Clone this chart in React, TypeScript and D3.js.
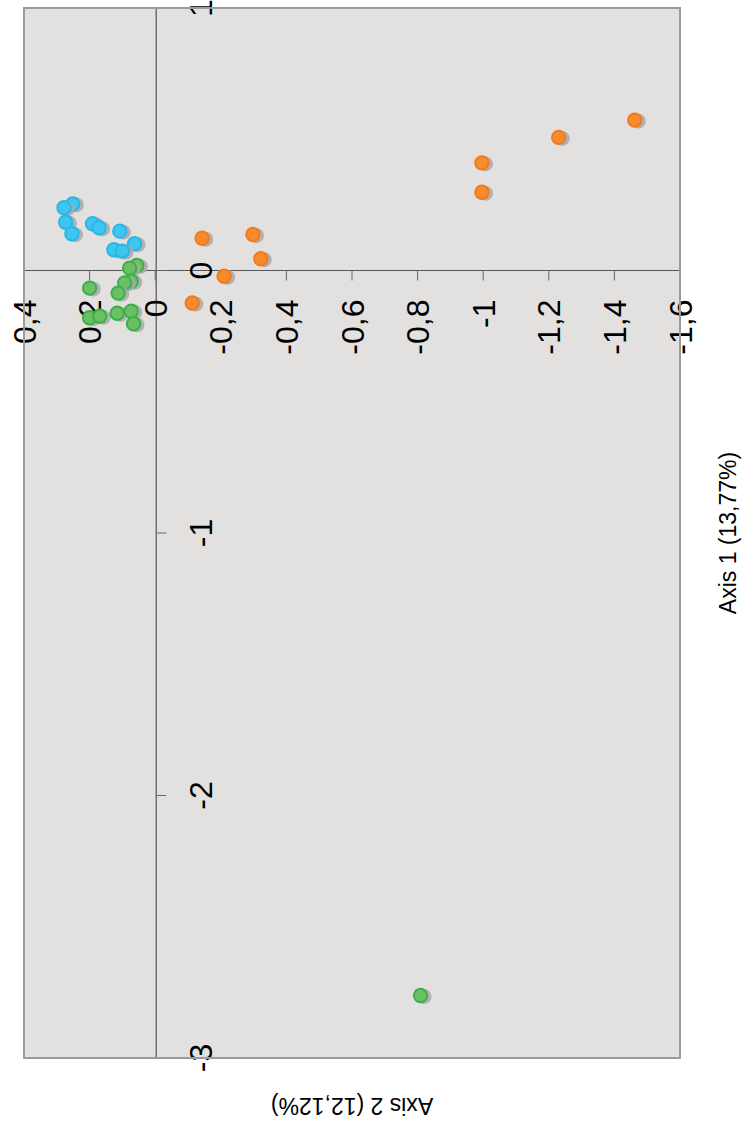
import React from "react";
import * as d3 from "d3";

// Axis 1 (13,77%) values and Axis 2 (12,12%) values per group
const blueAxis1 = [0.254, 0.239, 0.184, 0.14, 0.178, 0.163, 0.15, 0.102, 0.079, 0.074];
const blueAxis2 = [0.251, 0.278, 0.273, 0.254, 0.191, 0.171, 0.108, 0.063, 0.126, 0.1];

const greenAxis1 = [0.019, 0.009, -0.041, -0.047, -0.086, -0.067, -0.18, -0.174, -0.163, -0.155, -0.203, -2.762];
const greenAxis2 = [0.056, 0.078, 0.073, 0.093, 0.113, 0.2, 0.2, 0.169, 0.116, 0.073, 0.066, -0.809];

const orangeAxis1 = [0.123, 0.137, 0.045, -0.022, -0.124, 0.41, 0.298, 0.507, 0.573];
const orangeAxis2 = [-0.143, -0.298, -0.322, -0.21, -0.113, -0.996, -0.996, -1.23, -1.462];

const axis1Ticks = [-3, -2, -1, 0, 1];
const axis2Ticks = [0.4, 0.2, 0, -0.2, -0.4, -0.6, -0.8, -1, -1.2, -1.4, -1.6];

const axis1Title = "Axis 1 (13,77%)";
const axis2Title = "Axis 2 (12,12%)";

const groups = [
  { name: "blue", a1: blueAxis1, a2: blueAxis2, fill: "#3ec6f0", stroke: "#2ab6e6" },
  { name: "orange", a1: orangeAxis1, a2: orangeAxis2, fill: "#f78c2e", stroke: "#f27a1c" },
  { name: "green", a1: greenAxis1, a2: greenAxis2, fill: "#6cbf62", stroke: "#3bb049" },
];

const locale = d3.formatLocale({
  decimal: ",",
  thousands: ".",
  grouping: [3],
  currency: ["", ""],
  minus: "-",
});
const fmt = locale.format("~g");

export default function App() {
  // inner (unrotated) plot size
  const W = 1050;
  const H = 656;
  const x = d3.scaleLinear().domain([-3, 1]).range([0, W]);
  const y = d3.scaleLinear().domain([0.4, -1.6]).range([0, H]);
  const x0 = x(0);
  const y0 = y(0) + 1;
  const font = "'Liberation Sans', Arial, Helvetica, sans-serif";

  return (
    <svg
      width={753}
      height={1128}
      style={{ position: "absolute", left: 0, top: 0, display: "block", background: "#fff" }}
    >
      <defs>
        <filter id="sh" x="-50%" y="-50%" width="200%" height="200%">
          <feGaussianBlur stdDeviation="0.7" />
        </filter>
      </defs>
      <g transform="translate(24,1058) rotate(-90)">
        <rect x={0} y={0} width={W} height={H} fill="#e2e1e0" stroke="none" />
        {/* zero axes */}
        <line x1={0} x2={W} y1={y0} y2={y0} stroke="#555" strokeWidth={1.2} />
        <line x1={x0} x2={x0} y1={0} y2={H} stroke="#555" strokeWidth={1.2} />
        {/* axis1 ticks (along horizontal zero line) */}
        {axis1Ticks.map((t) => (
          <g key={"a1" + t}>
            <line x1={x(t)} x2={x(t)} y1={y0} y2={y0 + 10} stroke="#666" strokeWidth={1} />
            <text
              x={x(t)}
              y={y0 + 56}
              textAnchor="middle"
              fontFamily={font}
              fontSize={32}
              fill="#000"
            >
              {fmt(t)}
            </text>
          </g>
        ))}
        {/* axis2 ticks (along vertical zero line) */}
        {axis2Ticks.map((t) => (
          <g key={"a2" + t}>
            <line x1={x0} x2={x0 - 10} y1={y(t)} y2={y(t)} stroke="#666" strokeWidth={1} />
            <text
              x={x0 - 29}
              y={y(t)}
              dy="0.36em"
              textAnchor="end"
              fontFamily={font}
              fontSize={32}
              fill="#000"
            >
              {fmt(t)}
            </text>
          </g>
        ))}
        {/* points */}
        {groups.map((g) =>
          g.a1.map((v, i) => (
            <g key={g.name + i}>
              <circle
                cx={x(v) - 1}
                cy={y(g.a2[i]) + 3.5}
                r={7.5}
                fill="#a9a9a9"
                opacity={0.85}
                filter="url(#sh)"
              />
              <circle
                cx={x(v)}
                cy={y(g.a2[i])}
                r={6.7}
                fill={g.fill}
                stroke={g.stroke}
                strokeWidth={2}
              />
            </g>
          ))
        )}
        <rect x={0} y={0} width={W} height={H} fill="none" stroke="#9b9b9b" strokeWidth={2} />
        {/* titles */}
        <text
          x={W / 2}
          y={712}
          textAnchor="middle"
          fontFamily={font}
          fontSize={23}
          fill="#000"
        >
          {axis1Title}
        </text>
        <text
          transform={`translate(-40,${H / 2}) rotate(-90)`}
          textAnchor="middle"
          fontFamily={font}
          fontSize={23}
          fill="#000"
        >
          {axis2Title}
        </text>
      </g>
    </svg>
  );
}
